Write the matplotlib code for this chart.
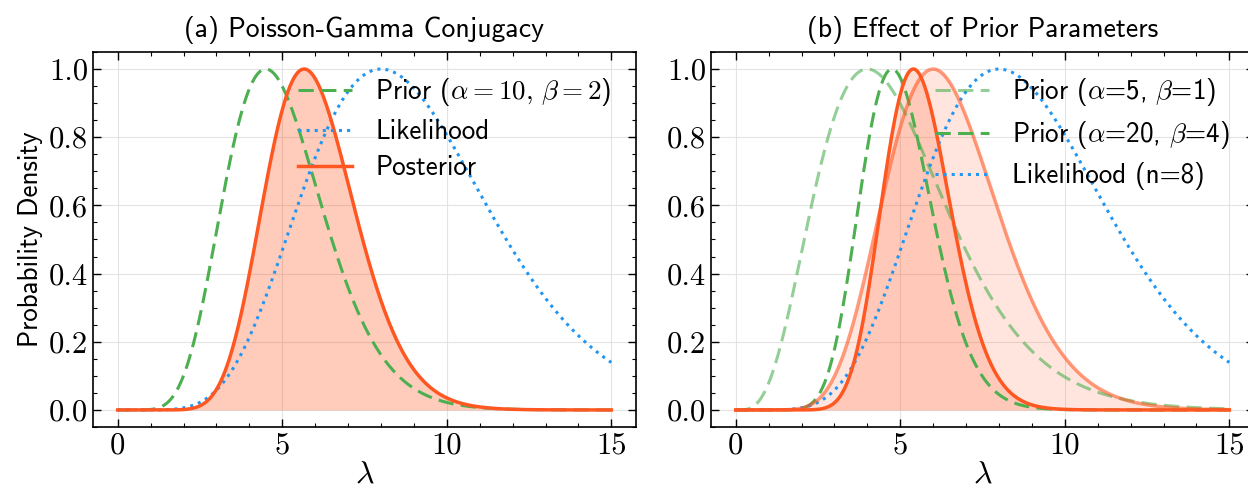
import numpy as np
import matplotlib
matplotlib.use("Agg")
import matplotlib.pyplot as plt
from matplotlib.ticker import MultipleLocator

plt.rcParams['font.family'] = 'cmr10'
plt.rcParams['mathtext.fontset'] = 'cm'
plt.rcParams['axes.formatter.use_mathtext'] = False
plt.rcParams['axes.unicode_minus'] = False

SANS = 'cmss10'

# parameters read from the legends / peak positions
lam_range = [0, 15]
prior_a = [10, 2]            # alpha, beta  (panel a)
obs_sum = 8                  # likelihood peaks at lambda = 8
obs_n = 1
priors_b = [[5, 1], [20, 4]]  # panel b
prior_b_labels = [r'Prior ($\alpha$=5, $\beta$=1)', r'Prior ($\alpha$=20, $\beta$=4)']
prior_b_alpha = [0.6, 1.0]
post_b_alpha = [0.6, 1.0]
post_b_fill = [0.15, 0.2]

GREEN = '#4CAF50'
BLUE = '#2196F3'
ORANGE = '#FF5722'
DASH = (0, (5, 2.4))

lam = np.linspace(lam_range[0], lam_range[1], 500)


def gamma_shape(a, b):
    # gamma density scaled to peak 1
    with np.errstate(divide='ignore'):
        logp = (a - 1) * np.log(lam) - b * lam
    logp = np.where(np.isfinite(logp), logp, -np.inf)
    return np.exp(logp - logp[np.isfinite(logp)].max())


def style_axes(ax):
    ax.set_xlim(-0.75, 15.75)
    ax.set_ylim(-0.05, 1.05)
    ax.xaxis.set_major_locator(MultipleLocator(5))
    ax.xaxis.set_minor_locator(MultipleLocator(1))
    ax.yaxis.set_major_locator(MultipleLocator(0.2))
    ax.yaxis.set_minor_locator(MultipleLocator(0.05))
    ax.tick_params(which='both', direction='in', top=True, right=True, labelsize=22)
    ax.tick_params(which='major', length=6, width=1)
    ax.tick_params(which='minor', length=3, width=0.8)
    ax.grid(True, color='#dddddd', lw=0.8, alpha=0.8)
    ax.set_axisbelow(True)
    for s in ax.spines.values():
        s.set_linewidth(1.2)
    ax.set_xlabel(r'$\lambda$', fontsize=23, labelpad=1)


fig = plt.figure(figsize=(12.48, 4.87), dpi=100)
ax1 = fig.add_axes([93 / 1248, 60 / 487, 543 / 1248, 375 / 487])
ax2 = fig.add_axes([711 / 1248, 60 / 487, 543 / 1248, 375 / 487])

leg_kw = dict(loc='upper right', frameon=False, handletextpad=0.85,
              labelspacing=0.4, prop={'family': SANS, 'size': 19.5})

# (a)
prior = gamma_shape(*prior_a)
like = gamma_shape(obs_sum + 1, obs_n)
post = gamma_shape(prior_a[0] + obs_sum, prior_a[1] + obs_n)
ax1.plot(lam, prior, ls=DASH, color=GREEN, lw=2.2,
         label=r'Prior ($\alpha = 10,\, \beta = 2$)')
ax1.plot(lam, like, ':', color=BLUE, lw=2.2, label='Likelihood')
ax1.plot(lam, post, '-', color=ORANGE, lw=2.5, label='Posterior')
ax1.fill_between(lam, post, color=ORANGE, alpha=0.3, lw=0)
style_axes(ax1)
ax1.set_title('(a) Poisson-Gamma Conjugacy', fontsize=20, family=SANS, pad=11)
ax1.set_ylabel('Probability Density', fontsize=19.5, family=SANS, labelpad=4)
ax1.legend(**leg_kw)

# (b)
for (a, b), lab, al in zip(priors_b, prior_b_labels, prior_b_alpha):
    ax2.plot(lam, gamma_shape(a, b), ls=DASH, color=GREEN, lw=2.2, alpha=al, label=lab)
ax2.plot(lam, like, ':', color=BLUE, lw=2.2, label='Likelihood (n=8)')
for (a, b), al, fa in zip(priors_b, post_b_alpha, post_b_fill):
    p = gamma_shape(a + obs_sum, b + obs_n)
    ax2.plot(lam, p, '-', color=ORANGE, lw=2.5, alpha=al)
    ax2.fill_between(lam, p, color=ORANGE, alpha=fa, lw=0)
style_axes(ax2)
ax2.set_title('(b) Effect of Prior Parameters', fontsize=20, family=SANS, pad=11)
ax2.legend(**leg_kw)

fig.savefig('out.png', dpi=100)
